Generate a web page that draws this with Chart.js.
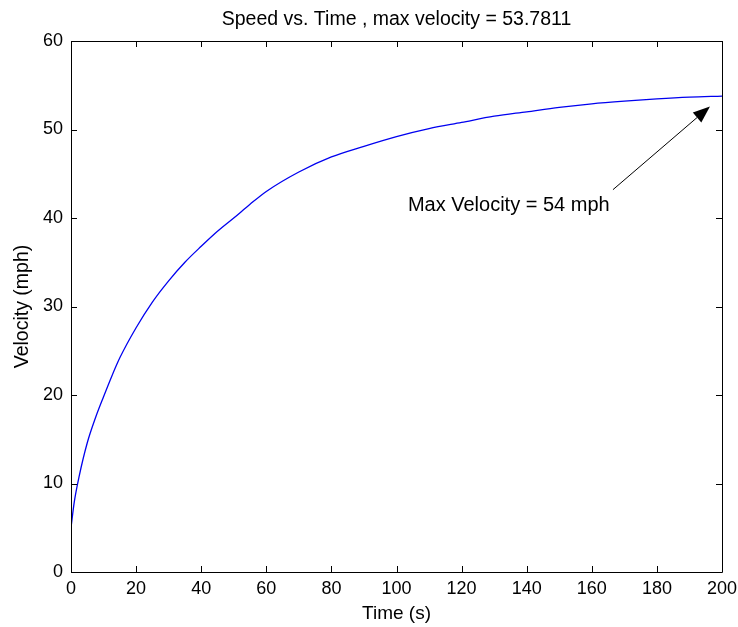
<!DOCTYPE html>
<html>
<head>
<meta charset="utf-8">
<style>
  html, body { margin: 0; padding: 0; background: #fff; }
  #wrap { width: 738px; height: 627px; }
</style>
<script src="https://cdn.jsdelivr.net/npm/chart.js@4.4.0/dist/chart.umd.min.js"></script>
</head>
<body>
<div id="wrap"><canvas id="speed-chart" width="738" height="627"></canvas></div>
<script>
// values
var times  = [0, 1, 2.5, 5, 7.5, 10, 12.5, 15, 20, 25, 30, 35, 40, 45, 50, 55, 60, 70, 80, 90, 100, 110, 120, 130, 140, 150, 160, 170, 180, 190, 200];
var speeds = [5.0, 7.9, 10.8, 14.6, 17.4, 19.8, 22.1, 24.2, 27.6, 30.5, 32.9, 35.0, 36.8, 38.5, 40.0, 41.55, 43.0, 45.2, 46.9, 48.1, 49.2, 50.1, 50.8, 51.5, 52.0, 52.5, 52.9, 53.2, 53.45, 53.65, 53.78];
var xTicks = [0, 20, 40, 60, 80, 100, 120, 140, 160, 180, 200];
var yTicks = [0, 10, 20, 30, 40, 50, 60];

var chartTitle = 'Speed vs. Time , max velocity = 53.7811';
var noteText = 'Max Velocity = 54 mph';
var noteAt = [103.5, 41.4];     // text left / middle, in data units
var arrowFrom = [166.5, 43.2];
var arrowTo = [196.3, 52.6];

var fontFamily = "'Liberation Sans', Arial, sans-serif";

var points = [];
for (var i = 0; i < times.length; i++) {
    points.push({x: times[i], y: speeds[i]});
}

// matlab style box, inward ticks, arrow and note
var boxPlugin = {
    id: 'matlabBox',
    afterLayout: function(chart) {
        // center the title over the axes, not the canvas
        if (chart.titleBlock) {
            chart.titleBlock.left = chart.chartArea.left;
            chart.titleBlock.right = chart.chartArea.right;
        }
    },
    afterDatasetsDraw: function(chart) {
        var ctx = chart.ctx;
        var a = chart.chartArea;
        var xs = chart.scales.x, ys = chart.scales.y;
        var tl = 6;
        ctx.save();
        ctx.strokeStyle = '#000';
        ctx.lineWidth = 1;
        ctx.beginPath();
        ctx.rect(Math.round(a.left) + 0.5, Math.round(a.top) + 0.5, Math.round(a.right - a.left), Math.round(a.bottom - a.top));
        xTicks.forEach(function(v) {
            var px = Math.round(xs.getPixelForValue(v)) + 0.5;
            ctx.moveTo(px, a.bottom); ctx.lineTo(px, a.bottom - tl);
            ctx.moveTo(px, a.top); ctx.lineTo(px, a.top + tl);
        });
        yTicks.forEach(function(v) {
            var py = Math.round(ys.getPixelForValue(v)) + 0.5;
            ctx.moveTo(a.left, py); ctx.lineTo(a.left + tl, py);
            ctx.moveTo(a.right, py); ctx.lineTo(a.right - tl, py);
        });
        ctx.stroke();

        // arrow
        var x0 = xs.getPixelForValue(arrowFrom[0]), y0 = ys.getPixelForValue(arrowFrom[1]);
        var x1 = xs.getPixelForValue(arrowTo[0]), y1 = ys.getPixelForValue(arrowTo[1]);
        var ang = Math.atan2(y1 - y0, x1 - x0);
        var hl = 17, hw = 6.5;
        var bx = x1 - hl * Math.cos(ang), by = y1 - hl * Math.sin(ang);
        ctx.beginPath();
        ctx.moveTo(x0, y0); ctx.lineTo(bx, by);
        ctx.stroke();
        ctx.fillStyle = '#000';
        ctx.beginPath();
        ctx.moveTo(x1, y1);
        ctx.lineTo(bx + hw * Math.sin(ang), by - hw * Math.cos(ang));
        ctx.lineTo(bx - hw * Math.sin(ang), by + hw * Math.cos(ang));
        ctx.closePath();
        ctx.fill();

        ctx.font = '20px ' + fontFamily;
        ctx.textAlign = 'left';
        ctx.textBaseline = 'middle';
        ctx.fillText(noteText, xs.getPixelForValue(noteAt[0]), ys.getPixelForValue(noteAt[1]));
        ctx.restore();
    }
};

var ctx = document.getElementById('speed-chart').getContext('2d');

var speedChart = new Chart(ctx, {
    type: 'scatter',
    data: {
        datasets: [{
            data: points,
            showLine: true,
            borderColor: '#0000f0',
            borderWidth: 1.3,
            pointRadius: 0,
            cubicInterpolationMode: 'monotone',
            fill: false
        }]
    },
    options: {
        responsive: false,
        animation: false,
        layout: {padding: {left: 0, right: 16, top: 0, bottom: 0}},
        plugins: {
            legend: {display: false},
            tooltip: {enabled: false},
            title: {
                display: true,
                text: chartTitle,
                color: '#000',
                font: {family: fontFamily, size: 19.5, weight: 'normal'},
                padding: {top: 8.3, bottom: 9.3}
            }
        },
        scales: {
            x: {
                type: 'linear',
                min: 0,
                max: 200,
                afterBuildTicks: function(scale) {
                    scale.ticks = xTicks.map(function(v) { return {value: v}; });
                },
                afterFit: function(scale) {
                    scale.height = 55;
                    scale.paddingRight = 0;
                    scale.paddingLeft = 0;
                },
                grid: {display: false, drawTicks: false},
                border: {display: false},
                ticks: {color: '#000', padding: 6, maxRotation: 0, font: {family: fontFamily, size: 18}},
                title: {
                    display: true,
                    text: 'Time (s)',
                    color: '#000',
                    font: {family: fontFamily, size: 19},
                    padding: {top: 0, bottom: 1.6}
                }
            },
            y: {
                type: 'linear',
                min: 0,
                max: 60,
                afterBuildTicks: function(scale) {
                    scale.ticks = yTicks.map(function(v) { return {value: v}; });
                },
                afterFit: function(scale) { scale.width = 71; },
                grid: {display: false, drawTicks: false},
                border: {display: false},
                ticks: {color: '#000', padding: 8, font: {family: fontFamily, size: 18}},
                title: {
                    display: true,
                    text: 'Velocity (mph)',
                    color: '#000',
                    font: {family: fontFamily, size: 19.5},
                    padding: {top: 11.3, bottom: 0}
                }
            }
        }
    },
    plugins: [boxPlugin]
});
</script>
</body>
</html>
